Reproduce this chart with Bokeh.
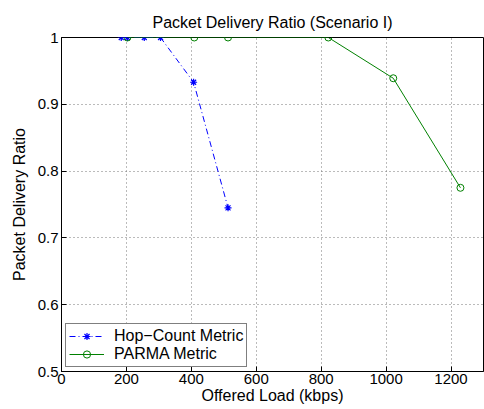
from bokeh.plotting import figure
from bokeh.models import Range1d, Legend, LegendItem, FixedTicker
from bokeh.embed import file_html
from bokeh.resources import INLINE

hop_x = [184, 203, 255, 305, 407, 513]
hop_y = [1.0, 1.0, 1.0, 1.0, 0.933, 0.745]
parma_x = [203, 409, 513, 822, 1022, 1229]
parma_y = [1.0, 1.0, 1.0, 1.0, 0.939, 0.775]
x_ticks = [0, 200, 400, 600, 800, 1000, 1200]
y_ticks = [0.5, 0.6, 0.7, 0.8, 0.9, 1.0]

FONT = "Liberation Sans"

p = figure(width=484, height=409, output_backend="svg", toolbar_location=None,
           x_range=Range1d(0, 1300), y_range=Range1d(0.5, 1.0),
           min_border_left=61, min_border_right=1, min_border_top=37, min_border_bottom=38)
p.title.text = "Packet Delivery Ratio (Scenario I)"
p.title.align = "center"
p.title.text_font = FONT
p.title.text_font_size = "16px"
p.title.text_font_style = "normal"
p.title.text_color = "black"
p.title.offset = 0
p.title.standoff = 14

p.outline_line_color = "black"
p.outline_line_width = 1

for ax in [p.xaxis[0], p.yaxis[0]]:
    ax.major_tick_in = 5
    ax.major_tick_out = 0
    ax.minor_tick_in = 0
    ax.minor_tick_out = 0
    ax.major_label_text_font = FONT
    ax.major_label_text_font_size = "15px"
    ax.major_label_text_color = "black"
    ax.axis_label_text_font = FONT
    ax.axis_label_text_font_size = "16px"
    ax.axis_label_text_font_style = "normal"
    ax.axis_label_text_color = "black"
    ax.axis_line_color = "black"
    ax.major_tick_line_color = "black"

p.xaxis[0].ticker = FixedTicker(ticks=x_ticks)
p.yaxis[0].ticker = FixedTicker(ticks=y_ticks)
p.xaxis[0].axis_label = "Offered Load (kbps)"
p.yaxis[0].axis_label = "Packet Delivery Ratio"
p.xaxis[0].axis_label_standoff = 0
p.yaxis[0].axis_label_standoff = 7
p.xaxis[0].major_label_standoff = 2
p.yaxis[0].major_label_standoff = 3
p.yaxis[0].major_label_overrides = {1.0: "1", 0.5: "0.5"}

p.xgrid.ticker = FixedTicker(ticks=x_ticks)
p.ygrid.ticker = FixedTicker(ticks=y_ticks)
for g in [p.xgrid[0], p.ygrid[0]]:
    g.grid_line_color = "#777777"
    g.grid_line_dash = "1 3"
    g.grid_line_width = 1

l1 = p.line(hop_x, hop_y, line_color="blue", line_dash="6 3 1 3", line_width=1)
m1 = p.scatter(hop_x, hop_y, marker="asterisk", size=7, line_color="blue", line_width=1.2)
l2 = p.line(parma_x, parma_y, line_color="#008000", line_width=1)
m2 = p.scatter(parma_x, parma_y, marker="circle", size=7, line_color="#008000",
               fill_color=None, line_width=1)

legend = Legend(items=[LegendItem(label="Hop\u2212Count Metric", renderers=[l1, m1]),
                       LegendItem(label="PARMA Metric", renderers=[l2, m2])],
                location=(4, 4))
legend.border_line_color = "black"
legend.border_line_width = 1
legend.background_fill_color = "white"
legend.background_fill_alpha = 1
legend.label_text_font = FONT
legend.label_text_font_size = "16px"
legend.label_text_color = "black"
legend.glyph_width = 35
legend.glyph_height = 18
legend.label_height = 18
legend.spacing = 0
legend.padding = 3
legend.margin = 0
legend.label_standoff = 10
p.add_layout(legend, "center")

open("out.html", "w").write(file_html(p, INLINE))
